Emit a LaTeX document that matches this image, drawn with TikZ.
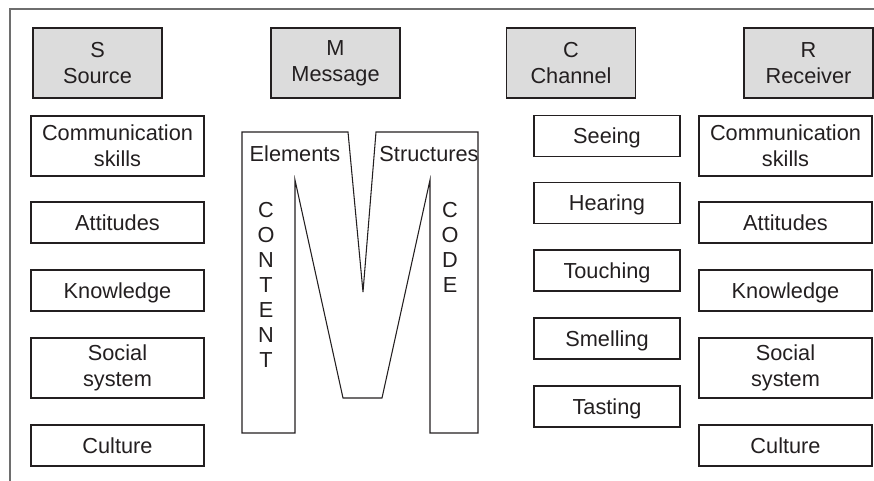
\documentclass[tikz,border=0pt]{standalone}
\usepackage{fontspec}
\setmainfont{Liberation Sans}
\definecolor{ink}{HTML}{231F20}
\definecolor{hdr}{HTML}{DCDCDC}
\definecolor{frame}{HTML}{6E6E6E}
\def\u{0.75pt}
\begin{document}
\begin{tikzpicture}[x=0.75pt,y=-0.75pt,
  txt/.style={font=\fontsize{16.3}{19.5}\selectfont, text=ink, inner sep=0pt},
  one/.style={txt, text height=11.7pt, text depth=0pt},
  two/.style={txt, align=center},
  box/.style={draw=ink, line width=0.8pt, minimum height=#1*\u},
  hbox/.style={two, box=70, fill=hdr, minimum width=129*\u},
  lbox/.style={box=#1, minimum width=173*\u},
  cbox/.style={one, box=41, minimum width=146*\u}]
\useasboundingbox (0,0) rectangle (874,481);
\draw[frame, line width=1.6pt] (10,481) -- (10,9) -- (874,9);
% headers
\node[hbox] (S) at (97.5,63) {S\\Source};
\node[hbox] (M) at (335.5,63) {M\\Message};
\node[hbox] (C) at (571,63) {C\\Channel};
\node[hbox] (R) at (808.5,63) {R\\Receiver};
% source column
\node[two, lbox=60] (s1) at (117.5,146) {Communication\\skills};
\node[one, lbox=41] (s2) at (117.5,222.5) {Attitudes};
\node[one, lbox=41] (s3) at (117.5,290.5) {Knowledge};
\node[two, lbox=60] (s4) at (117.5,368) {Social\\system};
\node[one, lbox=41] (s5) at (117.5,445.5) {Culture};
% receiver column
\node[two, lbox=60] (r1) at (785.5,146) {Communication\\skills};
\node[one, lbox=41] (r2) at (785.5,222.5) {Attitudes};
\node[one, lbox=41] (r3) at (785.5,290.5) {Knowledge};
\node[two, lbox=60] (r4) at (785.5,368) {Social\\system};
\node[one, lbox=41] (r5) at (785.5,445.5) {Culture};
% channel column
\node[cbox] (c1) at (607,136) {Seeing};
\node[cbox] (c2) at (607,203) {Hearing};
\node[cbox] (c3) at (607,270.5) {Touching};
\node[cbox] (c4) at (607,338.5) {Smelling};
\node[cbox] (c5) at (607,406.5) {Tasting};
% big M
\draw[ink, line width=0.8pt, line join=miter] (242,132) -- (348,132) -- (363,292) -- (376,132) -- (478,132)
  -- (478,433) -- (430,433) -- (430,180) -- (382,398) -- (343,398) -- (295,180)
  -- (295,433) -- (242,433) -- cycle;
\node[one] (el) at (295,154) {Elements};
\node[one] (st) at (429,154) {Structures};
\foreach \l [count=\i] in {C,O,N,T,E,N,T}
  \node[one] (ct\i) at (266,185+25*\i) {\l};
\foreach \l [count=\i] in {C,O,D,E}
  \node[one] (cd\i) at (450,185+25*\i) {\l};
\end{tikzpicture}
\end{document}
